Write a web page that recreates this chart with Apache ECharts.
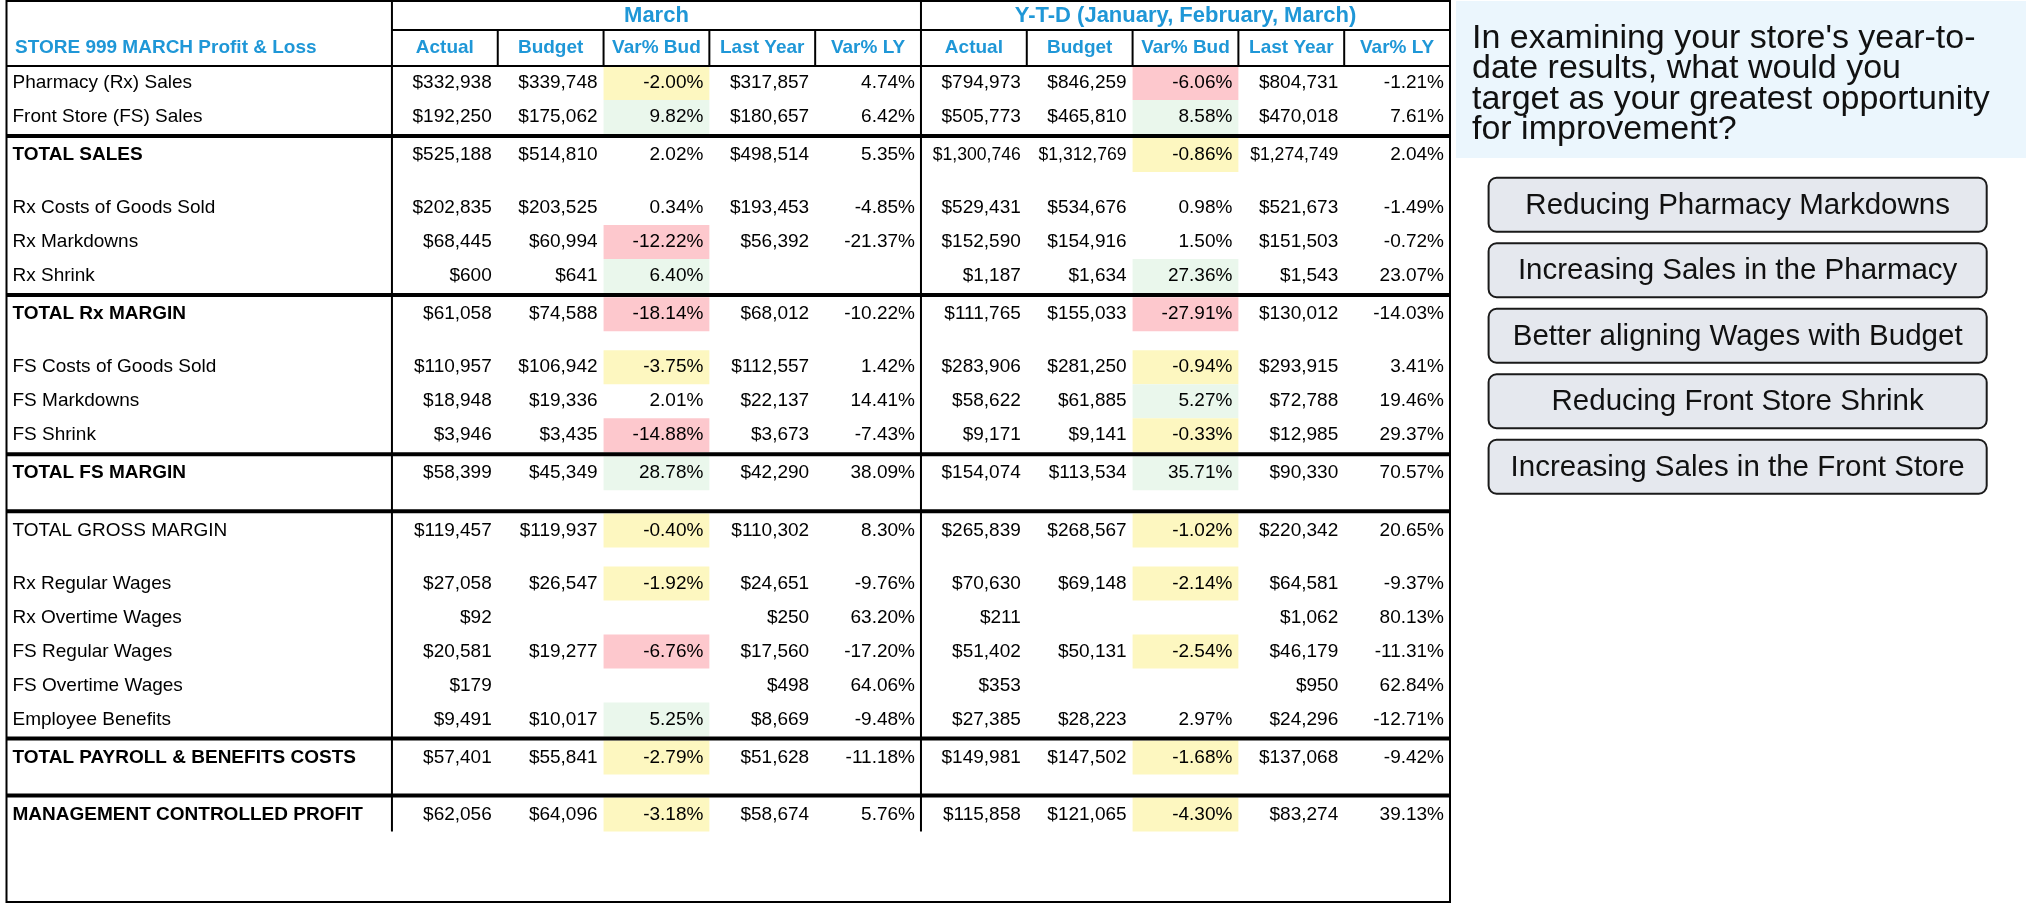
<!DOCTYPE html>
<html><head><meta charset="utf-8">
<script src="https://cdn.jsdelivr.net/npm/echarts@6/dist/echarts.min.js"></script>
<style>html,body{margin:0;padding:0;background:#fff}#c{width:2026px;height:912px}</style>
</head><body><div id="c"></div>
<script>
// ---------------- DATA ----------------
const tableTitle = "STORE 999 MARCH Profit & Loss";
const periodHeaders = ["March", "Y-T-D (January, February, March)"];
const columnHeaders = ["Actual", "Budget", "Var% Bud", "Last Year", "Var% LY"];
const columnKinds = ["money", "money", "pct", "money", "pct"];

const rowLabels = ["Pharmacy (Rx) Sales","Front Store (FS) Sales","TOTAL SALES","Rx Costs of Goods Sold","Rx Markdowns","Rx Shrink","TOTAL Rx MARGIN","FS Costs of Goods Sold","FS Markdowns","FS Shrink","TOTAL FS MARGIN","TOTAL GROSS MARGIN","Rx Regular Wages","Rx Overtime Wages","FS Regular Wages","FS Overtime Wages","Employee Benefits","TOTAL PAYROLL & BENEFITS COSTS","MANAGEMENT CONTROLLED PROFIT"];
const boldRows = [false,false,true,false,false,false,true,false,false,false,true,false,false,false,false,false,false,true,true];
const rowBreakAfter = ["","rule","gap","","","rule","gap","","","rule","gapRule","gap","","","","","rule","gapRule",""];

const marchActual   = [332938,192250,525188,202835,68445,600,61058,110957,18948,3946,58399,119457,27058,92,20581,179,9491,57401,62056];
const marchBudget   = [339748,175062,514810,203525,60994,641,74588,106942,19336,3435,45349,119937,26547,null,19277,null,10017,55841,64096];
const marchVarBud   = [-2.00,9.82,2.02,0.34,-12.22,6.40,-18.14,-3.75,2.01,-14.88,28.78,-0.40,-1.92,null,-6.76,null,5.25,-2.79,-3.18];
const marchLastYear = [317857,180657,498514,193453,56392,null,68012,112557,22137,3673,42290,110302,24651,250,17560,498,8669,51628,58674];
const marchVarLY    = [4.74,6.42,5.35,-4.85,-21.37,null,-10.22,1.42,14.41,-7.43,38.09,8.30,-9.76,63.20,-17.20,64.06,-9.48,-11.18,5.76];
const marchBudStatus = ["warn","good","","","bad","good","bad","warn","","bad","good","warn","warn","","bad","","good","warn","warn"];

const ytdActual   = [794973,505773,1300746,529431,152590,1187,111765,283906,58622,9171,154074,265839,70630,211,51402,353,27385,149981,115858];
const ytdBudget   = [846259,465810,1312769,534676,154916,1634,155033,281250,61885,9141,113534,268567,69148,null,50131,null,28223,147502,121065];
const ytdVarBud   = [-6.06,8.58,-0.86,0.98,1.50,27.36,-27.91,-0.94,5.27,-0.33,35.71,-1.02,-2.14,null,-2.54,null,2.97,-1.68,-4.30];
const ytdLastYear = [804731,470018,1274749,521673,151503,1543,130012,293915,72788,12985,90330,220342,64581,1062,46179,950,24296,137068,83274];
const ytdVarLY    = [-1.21,7.61,2.04,-1.49,-0.72,23.07,-14.03,3.41,19.46,29.37,70.57,20.65,-9.37,80.13,-11.31,62.84,-12.71,-9.42,39.13];
const ytdBudStatus = ["bad","good","warn","","","good","bad","warn","good","warn","good","warn","warn","","warn","","","warn","warn"];

const questionText = "In examining your store's year-to-\ndate results, what would you\ntarget as your greatest opportunity\nfor improvement?";
const answerOptions = ["Reducing Pharmacy Markdowns","Increasing Sales in the Pharmacy","Better aligning Wages with Budget","Reducing Front Store Shrink","Increasing Sales in the Front Store"];

// ---------------- STYLE / LAYOUT ----------------
const FONT = '"Liberation Sans", Arial, Helvetica, sans-serif';
const BLUE = '#1f97d7';
const statusFill = { bad: '#fdc8cd', warn: '#fdf7c0', good: '#eaf7ec' };
const U = { sup: 0.85, head: 1.06, row: 1, rule: 0.12, gap: 0.56, tail: 2.07 };
const colW = [3.643, 1,1,1,1,1, 1,1,1,1,1];
const colLeft = []; { let a = 0; colW.forEach(w => { colLeft.push(a); a += w; }); }
const xMax = colLeft[colLeft.length - 1] + colW[colW.length - 1];

const valueCols = [marchActual, marchBudget, marchVarBud, marchLastYear, marchVarLY, ytdActual, ytdBudget, ytdVarBud, ytdLastYear, ytdVarLY];
const statusCols = { 2: marchBudStatus, 7: ytdBudStatus };

// row layout
const headEnd = U.sup + U.head;
const rowTop = []; const rules = [];
let yy = headEnd;
rowLabels.forEach((_, i) => {
  rowTop.push(yy); yy += U.row;
  const b = rowBreakAfter[i];
  if (b === 'gap' || b === 'gapRule') yy += U.gap;
  if (b === 'rule' || b === 'gapRule') { rules.push(yy + U.rule / 2); yy += U.rule; }
});
const bodyEnd = yy;
const yMax = bodyEnd + U.tail;

function fmtMoney(v) { return '$' + String(v).replace(/\B(?=(\d{3})+(?!\d))/g, ','); }
function fmtPct(v) { return v.toFixed(2) + '%'; }

// cells
const cells = [];
cells.push({ col: 0, top: U.sup, h: U.head, text: tableTitle, align: 'left', bold: true, color: BLUE, size: 19, pad: 8.5 });
periodHeaders.forEach((t, p) => cells.push({ col: 1 + p * 5, span: 5, top: 0, h: U.sup, text: t, align: 'center', bold: true, color: BLUE, size: 22 }));
for (let c = 0; c < 10; c++) cells.push({ col: c + 1, top: U.sup, h: U.head, text: columnHeaders[c % 5], align: 'center', bold: true, color: BLUE, size: 19 });
rowLabels.forEach((lab, r) => {
  cells.push({ col: 0, top: rowTop[r], h: U.row, text: lab, align: 'left', bold: boldRows[r], color: '#000', size: 19, pad: 6 });
  valueCols.forEach((arr, k) => {
    const v = arr[r];
    const kind = columnKinds[k % 5];
    const txt = v == null ? '' : (kind === 'money' ? fmtMoney(v) : fmtPct(v));
    const st = statusCols[k] ? statusCols[k][r] : '';
    cells.push({ col: k + 1, top: rowTop[r], h: U.row, text: txt, align: 'right', bold: false, color: '#000',
      size: txt.length >= 10 ? 17.6 : 19, fill: st ? statusFill[st] : null, pad: 6 });
  });
});
cells.forEach(c => { c.span = c.span || 1; });

// rule segments [x0,y0,x1,y1,width]
const segs = [];
segs.push([colLeft[1], 0, colLeft[1], bodyEnd, 2]);
segs.push([colLeft[6], 0, colLeft[6], bodyEnd, 2]);
segs.push([colLeft[1], U.sup, xMax, U.sup, 2]);
segs.push([0, headEnd, xMax, headEnd, 2]);
[2,3,4,5,7,8,9,10].forEach(c => segs.push([colLeft[c], U.sup, colLeft[c], headEnd, 2]));
rules.forEach(y => segs.push([0, y, xMax, y, 4]));

const chart = echarts.init(document.getElementById('c'), null, { renderer: 'canvas' });
chart.setOption({
  animation: false,
  backgroundColor: '#fff',
  title: {
    text: questionText, left: 1472, top: 23.5, padding: 0,
    textStyle: { fontSize: 34, lineHeight: 30.3, fontWeight: 'normal', color: '#111', fontFamily: FONT }
  },
  grid: [
    { left: 6.5, top: 1, width: 1443.5, height: 901, show: true, borderColor: '#000', borderWidth: 2, backgroundColor: 'transparent' },
    { left: 1456, top: 1, right: 0, height: 157, show: true, borderWidth: 0, backgroundColor: '#ebf6fd' },
    { left: 1488.6, right: 39.3, top: 172, height: 327.5, show: false }
  ],
  xAxis: [
    { type: 'value', gridIndex: 0, min: 0, max: xMax, show: false },
    { type: 'value', gridIndex: 1, min: 0, max: 1, show: false },
    { type: 'value', gridIndex: 2, min: 0, max: 1, show: false }
  ],
  yAxis: [
    { type: 'value', gridIndex: 0, min: 0, max: yMax, inverse: true, show: false },
    { type: 'value', gridIndex: 1, min: 0, max: 1, show: false },
    { type: 'category', gridIndex: 2, data: answerOptions, inverse: true, show: false }
  ],
  series: [
    {
      type: 'custom', xAxisIndex: 0, yAxisIndex: 0, silent: true, clip: false,
      data: cells.map(c => [colLeft[c.col], c.top]),
      renderItem: function (params, api) {
        const d = cells[params.dataIndex];
        let x1 = colLeft[d.col]; for (let s = 0; s < d.span; s++) x1 += colW[d.col + s];
        const p0 = api.coord([api.value(0), api.value(1)]);
        const p1 = api.coord([x1, d.top + d.h]);
        const ch = [];
        if (d.fill) ch.push({ type: 'rect', shape: { x: p0[0], y: p0[1], width: p1[0] - p0[0], height: p1[1] - p0[1] }, style: { fill: d.fill } });
        if (d.text) {
          let x, align = d.align;
          if (align === 'left') x = p0[0] + d.pad;
          else if (align === 'center') x = (p0[0] + p1[0]) / 2;
          else x = p1[0] - d.pad;
          ch.push({ type: 'text', style: { text: d.text, x: x, y: (p0[1] + p1[1]) / 2, align: align, verticalAlign: 'middle', fill: d.color,
            font: (d.bold ? 'bold ' : '') + d.size + 'px ' + FONT } });
        }
        return { type: 'group', children: ch };
      }
    },
    {
      type: 'custom', xAxisIndex: 0, yAxisIndex: 0, silent: true, clip: false,
      data: segs,
      renderItem: function (params, api) {
        const a = api.coord([api.value(0), api.value(1)]);
        const b = api.coord([api.value(2), api.value(3)]);
        return { type: 'line', shape: { x1: a[0], y1: a[1], x2: b[0], y2: b[1] }, style: { stroke: '#000', lineWidth: api.value(4) } };
      }
    },
    {
      type: 'custom', xAxisIndex: 2, yAxisIndex: 2, silent: true, clip: false,
      data: answerOptions.map((t, i) => [0, i]),
      renderItem: function (params, api) {
        const c = api.coord([0, api.value(1)]);
        const e = api.coord([1, api.value(1)]);
        const h = 54;
        return { type: 'group', children: [
          { type: 'rect', shape: { x: c[0], y: c[1] - h / 2, width: e[0] - c[0], height: h, r: 8 }, style: { fill: '#e5e8ee', stroke: '#1a1a1a', lineWidth: 2 } },
          { type: 'text', style: { text: answerOptions[params.dataIndex], x: (c[0] + e[0]) / 2, y: c[1] + 1, align: 'center', verticalAlign: 'middle', fill: '#111', font: '29.5px ' + FONT } }
        ] };
      }
    }
  ]
});
</script>
</body></html>
